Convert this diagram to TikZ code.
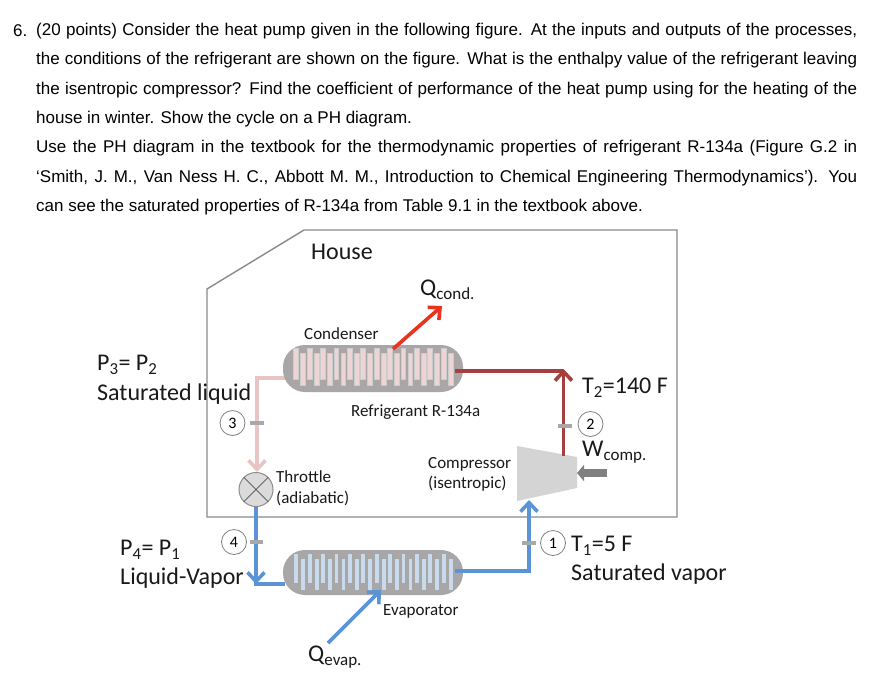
\documentclass[tikz,border=0pt]{standalone}
\usepackage{fontspec}
\setmainfont{Liberation Sans}
\newfontfamily\calib{Carlito}
\usetikzlibrary{arrows.meta}
\definecolor{pipered}{HTML}{A5403F}
\definecolor{pipepink}{HTML}{E8C4C4}
\definecolor{pipeblue}{HTML}{5A94D6}
\definecolor{brightred}{HTML}{E8331F}
\definecolor{bodygray}{HTML}{A8A6A6}
\definecolor{compgray}{HTML}{D4D4D4}
\definecolor{wallgray}{HTML}{8A8A8A}
\definecolor{tickgray}{HTML}{A8A8A8}
\definecolor{finpink}{HTML}{EDD5D5}
\definecolor{finblue}{HTML}{C9DAEC}
\tikzset{
  qline/.style={inner sep=0pt,anchor=west,font=\fontsize{17}{20}\selectfont},
  lab/.style={inner sep=0pt,anchor=west,font=\calib\fontsize{17}{20}\selectfont,text=black!90},
  biglab/.style={inner sep=0pt,anchor=west,font=\calib\fontsize{24}{28}\selectfont,text=black!90},
  pipe/.style={line width=3.6pt,line join=miter},
  barb/.style={-{Straight Barb[length=9pt,width=17pt,line width=3.6pt]}},
  numc/.style={circle,draw=black!50,line width=.8pt,minimum size=25pt,inner sep=0pt,font=\calib\fontsize{16}{19}\selectfont},
  tickm/.style={tickgray,line width=3.2pt},
  hx/.style={rounded corners=22pt,fill=bodygray,draw=none},
  finA/.style={draw=black!20,line width=.4pt,fill=finpink},
  finB/.style={draw=black!35,line width=.4pt,fill=finblue}
}
\newcommand{\jline}[3]{\node[qline] (#1) at (36,#2) {\makebox[821pt][s]{#3}};}
\begin{document}
\begin{tikzpicture}[x=1pt,y=-1pt]
\useasboundingbox (0,0) rectangle (883,675);
\fill[white] (0,0) rectangle (883,675);
% question text
\node[qline] (t1a) at (13,31) {6.};
\jline{t1}{31}{(20 points) Consider the heat pump given in the following figure. At the inputs and outputs of the processes,}
\jline{t2}{60}{the conditions of the refrigerant are shown on the figure. What is the enthalpy value of the refrigerant leaving}
\jline{t3}{90}{the isentropic compressor? Find the coefficient of performance of the heat pump using for the heating of the}
\node[qline] (t4) at (36,119) {house in winter. Show the cycle on a PH diagram.};
\jline{t5}{148}{Use the PH diagram in the textbook for the thermodynamic properties of refrigerant R-134a (Figure G.2 in}
\jline{t6}{178}{‘Smith, J. M., Van Ness H. C., Abbott M. M., Introduction to Chemical Engineering Thermodynamics’). You}
\node[qline] (t7) at (36,207) {can see the saturated properties of R-134a from Table 9.1 in the textbook above.};
% house
\draw[wallgray,line width=1.4pt] (207,517) -- (207,289) -- (304,230) -- (677,230) -- (677,517) -- cycle;
\node[biglab] (house) at (311,252) {House};
% coordinates
\coordinate (cl) at (285,378);
\coordinate (cr) at (455,371);
\coordinate (el) at (285,584);
\coordinate (er) at (455,571);
\coordinate (redcorner) at (563.5,369);
\coordinate (redjoin) at (563.5,371);
\coordinate (pinkcorner) at (257,378);
\coordinate (bluecornerL) at (256,584);
\coordinate (bluecornerR) at (529,571);
% pipes beneath
\draw[pipe,pipepink] (cl) -- (pinkcorner) -- (257,470);
\draw[pipe,pipepink,barb] (257,440) -- (257,472);
% heat exchangers
\node[hx,minimum width=180pt,minimum height=47pt,inner sep=0pt] (cond) at (373,368.5) {};
\node[hx,minimum width=180pt,minimum height=45pt,inner sep=0pt] (evap) at (373,572.5) {};
\foreach \i in {0,...,11}{
  \pgfmathsetmacro{\xa}{296+13.4*\i}
  \pgfmathsetmacro{\xb}{303+13.4*\i}
  \filldraw[finA] (\xa-2.4,348) rectangle (\xa+2.4,379);
  \filldraw[finA] (\xb-2.4,353) rectangle (\xb+2.4,385);
  \filldraw[finB] (\xa-2.4,553) rectangle (\xa+2.4,583);
  \filldraw[finB] (\xb-2.4,558) rectangle (\xb+2.4,590);
}
% throttle
\node[circle,draw=black!45,fill=black!14,line width=1pt,minimum size=34pt,inner sep=0pt] (thr) at (256,489.5) {};
\draw[black!60,line width=1pt] (thr.north west) -- (thr.south east) (thr.north east) -- (thr.south west);
% compressor
\fill[compgray] (517,446) -- (577,457) -- (577,488) -- (517,501) -- cycle;
\coordinate (compout) at (563.5,456);
\coordinate (compin) at (529,500);
% coloured pipes
\draw[pipe,pipered] (cr) -- (redjoin);
\draw[pipe,pipered,barb] (compout) -- (redcorner);
\draw[pipe,pipeblue,barb] (thr.south) -- (bluecornerL);
\draw[pipe,pipeblue] (254.2,584) -- (el);
\draw[pipe,pipeblue,barb] (er) -- (bluecornerR) -- (compin);
% state marks
\node[numc] (n3) at (232.5,423) {3};
\node[numc] (n2) at (590.5,424) {2};
\node[numc] (n4) at (234,542) {4};
\node[numc] (n1) at (553,543) {1};
\coordinate (k3a) at (250,423); \coordinate (k3b) at (264,423);
\coordinate (k2a) at (558,426); \coordinate (k2b) at (572,426);
\coordinate (k4a) at (250,542); \coordinate (k4b) at (263,542);
\coordinate (k1a) at (522,543); \coordinate (k1b) at (536,543);
\draw[tickm] (k3a) -- (k3b);
\draw[tickm] (k2a) -- (k2b);
\draw[tickm] (k4a) -- (k4b);
\draw[tickm] (k1a) -- (k1b);
% heat and work arrows
\coordinate (qc) at (442,306);
\coordinate (qe) at (381,590);
\coordinate (qeb) at (328,643);
\coordinate (qcb) at (393,349);
\coordinate (wa) at (607,473);
\coordinate (wb) at (577,473);
\draw[brightred,pipe,barb] (qcb) -- (qc);
\draw[pipeblue,pipe,barb] (qeb) -- (qe);
\draw[black!50,line width=8pt,-{Triangle[length=7pt,width=16pt]}] (wa) -- (wb);
% labels
\node[biglab] (qcl) at (420,290) {Q\raisebox{-4pt}{\fontsize{17}{20}\selectfont cond.}};
\node[biglab] (qel) at (308,657) {Q\raisebox{-4pt}{\fontsize{17}{20}\selectfont evap.}};
\node[biglab] (wl) at (582,452) {W\raisebox{-4pt}{\fontsize{17}{20}\selectfont comp.}};
\node[lab] (lc) at (304,334) {Condenser};
\node[lab] (lr) at (351,412) {Refrigerant R-134a};
\node[lab] (lt1) at (276,477) {Throttle};
\node[lab] (lt2) at (276,498) {(adiabatic)};
\node[lab] (lk1) at (428,464) {Compressor};
\node[lab] (lk2) at (428,484) {(isentropic)};
\node[lab] (le) at (383,611) {Evaporator};
\node[biglab] (p3) at (97,365) {P\textsubscript{3}= P\textsubscript{2}};
\node[biglab] (sl) at (97,394) {Saturated liquid};
\node[biglab] (p4) at (120,550) {P\textsubscript{4}= P\textsubscript{1}};
\node[biglab] (lv) at (120,578) {Liquid-Vapor};
\node[biglab] (t2) at (582,388) {T\textsubscript{2}=140 F};
\node[biglab] (t1) at (571,546) {T\textsubscript{1}=5 F};
\node[biglab] (sv) at (571,574) {Saturated vapor};
\end{tikzpicture}
\end{document}
